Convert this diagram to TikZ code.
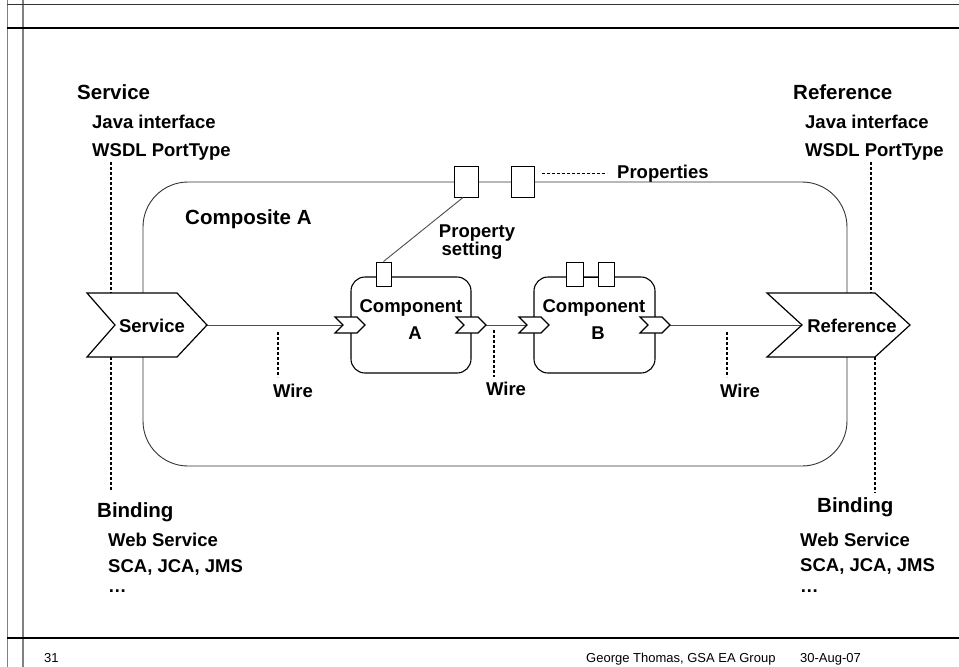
\documentclass[tikz,border=0pt]{standalone}
\usepackage{fontspec}
\setmainfont{Liberation Sans}
\begin{document}
\begin{tikzpicture}[x=1pt,y=-1pt,
  lbl/.style={font=\fontsize{18.5}{18.5}\selectfont\bfseries, inner sep=0pt},
  head/.style={font=\fontsize{20.5}{20.5}\selectfont\bfseries, inner sep=0pt},
  foot/.style={font=\fontsize{13}{13}\selectfont, inner sep=0pt},
  guide/.style={dash pattern=on 3pt off 2pt, line width=1.1pt},
  thinline/.style={line width=0.9pt, draw=black!70},
  outline/.style={draw, line width=1.1pt, fill=white},
  chev/.pic={
    \draw[outline] (0,-8) -- (22,-8) -- (30,0) -- (22,8) -- (0,8) -- (8,0) -- cycle;
    \coordinate (-tail) at (8,0);
    \coordinate (-tip) at (30,0);
  }]
\useasboundingbox (0,0) rectangle (959,667);

% slide frame
\draw[gray, line width=0.8pt] (7,0) -- (7,667);
\draw[gray, line width=2pt] (23,0) -- (23,667);
\draw[black!80, line width=1pt] (7,4) -- (959,4);
\draw[line width=1.2pt] (7,28) -- (959,28);
\draw[line width=1.2pt] (7,638) -- (959,638);

% composite boundary
\draw[thinline, draw=black!80, rounded corners=45pt] (143,182) rectangle (847,466);
\node[head, anchor=base west] (compA) at (185,224) {Composite A};

% service / reference guide lines
\coordinate (sgtop) at (111,162);
\coordinate (sgbot) at (111,490);
\coordinate (rgtop) at (871,162);
\coordinate (rgbot) at (875,493);

% anchor points of the composite service and reference chevrons
\coordinate (svctip) at (207,325);
\coordinate (refnotch) at (802,325);

% component bodies
\node[draw, line width=1.1pt, rounded corners=14pt, minimum width=120pt, minimum height=96pt, inner sep=0pt] (compa) at (411,325) {};
\node[draw, line width=1.1pt, rounded corners=14pt, minimum width=121pt, minimum height=96pt, inner sep=0pt] (compb) at (594.5,325) {};

% wires
\coordinate (aintail) at (343,325);
\coordinate (bintail) at (527,325);
\draw[thinline] (svctip) -- (aintail);
\draw[thinline] (486,325) -- (bintail);
\draw[thinline] (670,325) -- (refnotch);

% component ports (chevrons)
\pic (ain) at (335,325) {chev};
\pic (aout) at (456,325) {chev};
\pic (bin) at (519,325) {chev};
\pic (bout) at (640,325) {chev};

% composite service and reference
\draw[outline, line width=1.2pt] (87,293) -- (177,293) -- (svctip) -- (177,357) -- (87,357) -- (115,325) -- cycle;
\draw[outline, line width=1.2pt] (767,293) -- (875,293) -- (910,325) -- (875,357) -- (767,357) -- (refnotch) -- cycle;
\node[lbl] (svclbl) at (152,326) {Service};
\node[lbl] (reflbl) at (852,326) {Reference};

\draw[guide] (sgtop) -- (111,293);
\draw[guide] (111,357) -- (sgbot);
\draw[guide] (rgtop) -- (871,293);
\draw[guide] (875,357) -- (rgbot);

% property boxes
\node[outline, line width=1pt, minimum width=24pt, minimum height=31pt, inner sep=0pt] (prop1) at (466,181.5) {};
\node[outline, line width=1pt, minimum width=23pt, minimum height=31pt, inner sep=0pt] (prop2) at (522.5,181.5) {};
\node[outline, line width=1pt, minimum width=15pt, minimum height=24pt, inner sep=0pt] (pa) at (383.5,274) {};
\node[outline, line width=1pt, minimum width=17pt, minimum height=24pt, inner sep=0pt] (pb1) at (574.5,274) {};
\node[outline, line width=1pt, minimum width=16pt, minimum height=24pt, inner sep=0pt] (pb2) at (606,274) {};
\draw[line width=1pt] ([yshift=-3pt]pb1.east) -- ([yshift=-3pt]pb2.west);
\draw[thinline] ([xshift=-3pt]prop1.south) -- (pa.north);

% properties label
\coordinate (pdash) at (607,173);
\draw[guide, line width=1pt] (542,173) -- (pdash);
\node[lbl, anchor=base west] (props) at (617,178) {Properties};

% component labels
\node[lbl, anchor=base] (ca1) at (411,312) {Component};
\node[lbl, anchor=base] (ca2) at (415,339) {A};
\node[lbl, anchor=base] (cb1) at (594,312) {Component};
\node[lbl, anchor=base] (cb2) at (598,339) {B};
\node[lbl, anchor=base] (ps1) at (477,237) {Property};
\node[lbl, anchor=base] (ps2) at (472,255) {setting};

% wire labels
\coordinate (w1) at (278,377);
\coordinate (w2) at (494,377);
\coordinate (w3) at (727,377);
\draw[guide] (278,332) -- (w1);
\draw[guide] (494,330) -- (w2);
\draw[guide] (727,332) -- (w3);
\node[lbl, anchor=base] (wl1) at (293,397) {Wire};
\node[lbl, anchor=base] (wl2) at (506,395) {Wire};
\node[lbl, anchor=base] (wl3) at (740,397) {Wire};

% service side text
\node[head, anchor=base west] (svchead) at (77,99) {Service};
\node[lbl, anchor=base west] (svcj) at (92,128) {Java interface};
\node[lbl, anchor=base west] (svcw) at (92,156) {WSDL PortType};
\node[head, anchor=base west] (bindl) at (97,517) {Binding};
\node[lbl, anchor=base west] (bl1) at (108,546) {Web Service};
\node[lbl, anchor=base west] (bl2) at (108,572) {SCA, JCA, JMS};
\node[lbl, anchor=base west] (bl3) at (108,592) {…};

% reference side text
\node[head, anchor=base west] (refhead) at (793,99) {Reference};
\node[lbl, anchor=base west] (refj) at (805,128) {Java interface};
\node[lbl, anchor=base west] (refw) at (805,156) {WSDL PortType};
\node[head, anchor=base west] (bindr) at (817,512) {Binding};
\node[lbl, anchor=base west] (br1) at (800,546) {Web Service};
\node[lbl, anchor=base west] (br2) at (800,571) {SCA, JCA, JMS};
\node[lbl, anchor=base west] (br3) at (800,592) {…};

% footer
\node[foot, anchor=base west] (pgno) at (44,662) {31};
\node[foot, anchor=base west] (author) at (586,662) {George Thomas, GSA EA Group};
\node[foot, anchor=base west] (date) at (800,662) {30-Aug-07};
\end{tikzpicture}
\end{document}
